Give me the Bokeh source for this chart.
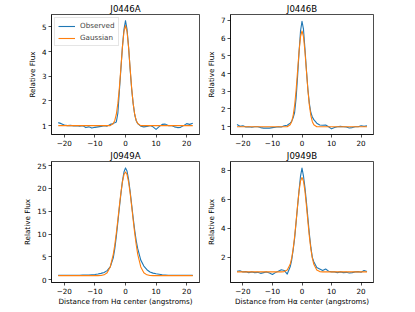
from bokeh.plotting import figure
from bokeh.layouts import column, row
from bokeh.models import Range1d, FixedTicker
from bokeh.embed import file_html
from bokeh.resources import INLINE

# ---------------- data ----------------
wave = [-22, -21, -20, -19, -18, -17, -16, -15, -14, -13, -12, -11, -10, -9, -8, -7, -6, -5, -4,
        -3.5, -3, -2.5, -2, -1.5, -1, -0.5, 0, 0.5, 1, 1.5, 2, 2.5, 3, 3.5,
        4, 5, 6, 7, 8, 9, 10, 11, 12, 13, 14, 15, 16, 17, 18, 19, 20, 21, 22]

obs_j0446a = [1.12, 1.08, 1.02, 1.00, 1.01, 0.99, 1.00, 0.98, 1.00, 0.92, 0.95, 0.90, 0.93, 0.95, 0.97, 1.00, 0.98, 1.05, 1.08,
              1.12, 1.15, 1.50, 2.40, 3.30, 4.20, 4.90, 5.25, 4.90, 4.20, 3.30, 2.50, 1.90, 1.45, 1.20,
              1.08, 0.98, 0.95, 0.97, 1.00, 0.95, 0.85, 0.96, 1.05, 1.06, 1.00, 1.00, 0.95, 0.92, 0.93, 1.00, 1.08, 1.05, 1.10]
fit_j0446a = [1.0, 1.0, 1.0, 1.0, 1.0, 1.0, 1.0, 1.0, 1.0, 1.0, 1.0, 1.0, 1.0, 1.0, 1.0, 1.0, 1.0, 1.0, 1.085,
              1.21, 1.46, 1.90, 2.54, 3.35, 4.18, 4.81, 5.05, 4.81, 4.18, 3.35, 2.54, 1.90, 1.46, 1.21,
              1.085, 1.0, 1.0, 1.0, 1.0, 1.0, 1.0, 1.0, 1.0, 1.0, 1.0, 1.0, 1.0, 1.0, 1.0, 1.0, 1.0, 1.0, 1.0]

obs_j0446b = [1.12, 1.02, 1.05, 0.98, 1.00, 0.97, 1.00, 1.00, 0.95, 0.92, 0.93, 0.92, 0.95, 0.97, 1.00, 0.98, 1.05, 1.08, 1.20,
              1.30, 1.50, 1.80, 2.60, 3.80, 5.20, 6.40, 6.95, 6.50, 5.40, 4.20, 3.10, 2.30, 1.80, 1.55,
              1.40, 1.20, 1.10, 1.08, 1.10, 1.00, 0.88, 0.95, 1.00, 1.02, 1.00, 0.98, 0.93, 0.95, 1.00, 1.00, 1.05, 1.02, 1.05]
fit_j0446b = [1.0, 1.0, 1.0, 1.0, 1.0, 1.0, 1.0, 1.0, 1.0, 1.0, 1.0, 1.0, 1.0, 1.0, 1.0, 1.0, 1.0, 1.0, 1.11,
              1.28, 1.62, 2.20, 3.06, 4.14, 5.24, 6.08, 6.40, 6.08, 5.24, 4.14, 3.06, 2.20, 1.62, 1.28,
              1.11, 1.0, 1.0, 1.0, 1.0, 1.0, 1.0, 1.0, 1.0, 1.0, 1.0, 1.0, 1.0, 1.0, 1.0, 1.0, 1.0, 1.0, 1.0]

obs_j0949a = [0.95, 0.95, 0.96, 0.97, 0.98, 0.99, 1.00, 1.00, 1.02, 1.03, 1.05, 1.10, 1.15, 1.25, 1.40, 1.60, 2.00, 2.80, 4.80,
              6.80, 9.50, 12.6, 15.8, 18.8, 21.6, 23.6, 24.5, 23.8, 22.0, 19.5, 16.5, 13.6, 10.9, 8.60,
              6.80, 4.30, 3.00, 2.20, 1.70, 1.45, 1.30, 1.20, 1.10, 1.05, 1.00, 0.99, 0.98, 0.97, 0.96, 0.96, 0.95, 0.95, 0.95]
fit_j0949a = [0.9, 0.9, 0.9, 0.9, 0.9, 0.9, 0.9, 0.9, 0.9, 0.9, 0.9, 0.9, 0.9, 0.9, 0.92, 1.08, 1.55, 2.82, 5.57,
              7.67, 10.23, 13.15, 16.2, 19.08, 21.46, 23.05, 23.6, 23.05, 21.46, 19.08, 16.2, 13.15, 10.23, 7.67,
              5.57, 2.82, 1.55, 1.08, 0.92, 0.9, 0.9, 0.9, 0.9, 0.9, 0.9, 0.9, 0.9, 0.9, 0.9, 0.9, 0.9, 0.9, 0.9]

obs_j0949b = [1.05, 1.08, 1.00, 1.02, 0.95, 1.00, 0.95, 0.97, 0.90, 0.95, 1.00, 0.92, 0.82, 0.95, 1.05, 1.15, 1.10, 0.85, 1.35,
              1.80, 2.50, 3.30, 4.40, 5.50, 6.60, 7.60, 8.15, 7.60, 6.80, 5.80, 4.70, 3.60, 2.70, 2.00,
              1.70, 1.30, 1.20, 1.10, 1.20, 1.05, 1.00, 1.00, 0.95, 1.00, 0.95, 0.97, 0.92, 0.95, 1.00, 1.02, 0.98, 1.10, 1.02]
fit_j0949b = [1.0, 1.0, 1.0, 1.0, 1.0, 1.0, 1.0, 1.0, 1.0, 1.0, 1.0, 1.0, 1.0, 1.0, 1.0, 1.0, 1.02, 1.13, 1.52,
              1.94, 2.57, 3.43, 4.46, 5.56, 6.55, 7.25, 7.50, 7.25, 6.55, 5.56, 4.46, 3.43, 2.57, 1.94,
              1.52, 1.13, 1.02, 1.0, 1.0, 1.0, 1.0, 1.0, 1.0, 1.0, 1.0, 1.0, 1.0, 1.0, 1.0, 1.0, 1.0, 1.0, 1.0]

names = ["J0446A", "J0446B", "J0949A", "J0949B"]
x_ticks = [-20, -10, 0, 10, 20]
y_ticks = [[1, 2, 3, 4, 5], [1, 2, 3, 4, 5, 6, 7], [0, 5, 10, 15, 20, 25], [2, 4, 6, 8]]
y_lims = [(0.64, 5.5), (0.56, 7.33), (-0.6, 25.9), (0.27, 8.6)]
x_lim = (-24.2, 24.2)
x_label = "Distance from Hα center (angstroms)"
y_label = "Relative Flux"

BLUE = "#1f77b4"
ORANGE = "#ff7f0e"
FONT = "DejaVu Sans"


def make_panel(i, obs, fit, width, height, left, right, top, bottom, xlabel, legend):
    p = figure(width=width, height=height, output_backend="svg", toolbar_location=None,
               x_range=Range1d(*x_lim), y_range=Range1d(*y_lims[i]),
               min_border_left=left, min_border_right=right,
               min_border_top=top, min_border_bottom=bottom,
               title=names[i])
    p.background_fill_color = "white"
    p.border_fill_color = "white"
    p.outline_line_color = "black"
    p.outline_line_width = 0.7
    p.grid.visible = False
    p.title.align = "center"
    p.title.text_font = FONT
    p.title.text_font_size = "8.6px"
    p.title.text_font_style = "normal"
    p.title.text_color = "black"
    p.title.standoff = 1
    p.title.offset = 0
    for ax in (p.xaxis[0], p.yaxis[0]):
        ax.axis_line_color = "black"
        ax.axis_line_width = 0.7
        ax.major_tick_line_color = "black"
        ax.major_tick_line_width = 0.7
        ax.major_tick_in = 0
        ax.major_tick_out = 3
        ax.minor_tick_line_color = None
        ax.major_label_text_font = FONT
        ax.major_label_text_font_size = "7.2px"
        ax.major_label_text_color = "black"
        ax.major_label_standoff = 2
        ax.axis_label_text_font = FONT
        ax.axis_label_text_font_size = "7.2px"
        ax.axis_label_text_font_style = "normal"
        ax.axis_label_text_color = "black"
        ax.axis_label_standoff = 2
    p.xaxis.axis_label_standoff = 0
    p.xaxis.ticker = FixedTicker(ticks=x_ticks)
    p.xaxis.major_label_overrides = {-20: "−20", -10: "−10"}
    p.yaxis.ticker = FixedTicker(ticks=y_ticks[i])
    p.yaxis.axis_label = y_label
    if xlabel:
        p.xaxis.axis_label = x_label

    if legend:
        p.line(wave, obs, line_color=BLUE, line_width=1.1, line_join="round", legend_label="Observed")
        p.line(wave, fit, line_color=ORANGE, line_width=1.1, line_join="round", legend_label="Gaussian")
        lg = p.legend[0]
        lg.location = "top_left"
        lg.margin = 3
        lg.padding = 3
        lg.spacing = 3
        lg.label_text_font = FONT
        lg.label_text_font_size = "7.2px"
        lg.label_height = 8
        lg.glyph_height = 8
        lg.glyph_width = 17
        lg.label_standoff = 5
        lg.border_line_color = "#cccccc"
        lg.border_line_width = 0.8
        lg.background_fill_alpha = 0.8
    else:
        p.line(wave, obs, line_color=BLUE, line_width=1.1, line_join="round")
        p.line(wave, fit, line_color=ORANGE, line_width=1.1, line_join="round")
    return p


p1 = make_panel(0, obs_j0446a, fit_j0446a, 203, 148, 51, 4, 14, 12, False, True)
p2 = make_panel(1, obs_j0446b, fit_j0446b, 180, 148, 24, 10, 14, 12, False, False)
p3 = make_panel(2, obs_j0949a, fit_j0949a, 203, 162, 51, 4, 12, 28, True, False)
p4 = make_panel(3, obs_j0949b, fit_j0949b, 180, 162, 24, 10, 12, 28, True, False)

layout = column(row(p1, p2), row(p3, p4))
open("out.html", "w").write(file_html(layout, INLINE))
